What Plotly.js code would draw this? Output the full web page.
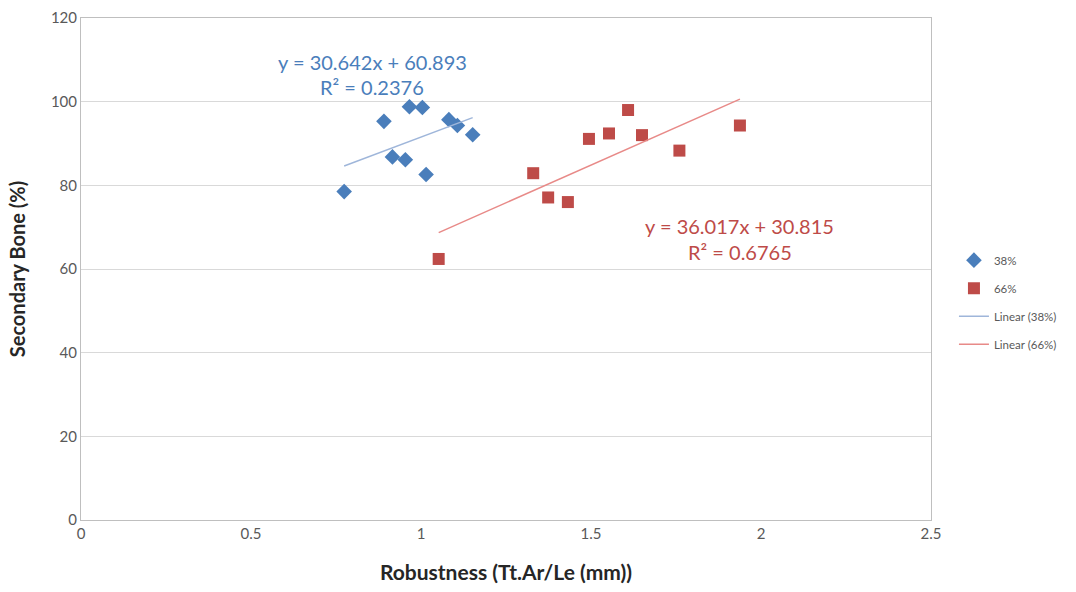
<!DOCTYPE html>
<html>
<head>
<meta charset="utf-8">
<script src="https://cdn.plot.ly/plotly-3.0.1.min.js"></script>
<style>html,body{margin:0;padding:0;background:#fff}#chart{width:1076px;height:592px}</style>
</head>
<body>
<div id="chart"></div>
<script>
// Series 38%
const x38 = [0.774, 0.891, 0.916, 0.954, 0.966, 1.004, 1.015, 1.082, 1.107, 1.152];
const y38 = [78.5, 95.3, 86.8, 86.1, 98.8, 98.6, 82.6, 95.7, 94.3, 92.1];
// Series 66%
const x66 = [1.052, 1.330, 1.374, 1.432, 1.494, 1.553, 1.609, 1.650, 1.760, 1.938];
const y66 = [62.4, 82.9, 77.1, 76.0, 91.1, 92.4, 98.0, 92.0, 88.3, 94.3];
// Trendline equations (as printed on the chart)
const seriesNames = ["38%", "66%"];
const slopes = [30.642, 36.017];
const intercepts = [60.893, 30.815];
const r2 = [0.2376, 0.6765];
const xTicks = [0, 0.5, 1, 1.5, 2, 2.5];
const yTicks = [0, 20, 40, 60, 80, 100, 120];

const FONT = "Lato, Carlito, sans-serif";
const BLUE = "#4a7ebb", RED = "#be4b48";
const BLUE_LINE = "#9fb6da", RED_LINE = "#e88a88";

function trend(xs, i) {
  const lo = Math.min(...xs), hi = Math.max(...xs);
  return {x: [lo, hi], y: [slopes[i] * lo + intercepts[i], slopes[i] * hi + intercepts[i]]};
}
const t38 = trend(x38, 0), t66 = trend(x66, 1);

const traces = [
  {x: x38, y: y38, mode: "markers", type: "scatter", name: seriesNames[0], legendgroup: "a",
   marker: {symbol: "diamond", color: BLUE, size: 12}},
  {x: x66, y: y66, mode: "markers", type: "scatter", name: seriesNames[1], legendgroup: "b",
   marker: {symbol: "square", color: RED, size: 12}},
  {x: t38.x, y: t38.y, mode: "lines", type: "scatter", name: "Linear (" + seriesNames[0] + ")", legendgroup: "c",
   line: {color: BLUE_LINE, width: 1.5}},
  {x: t66.x, y: t66.y, mode: "lines", type: "scatter", name: "Linear (" + seriesNames[1] + ")", legendgroup: "d",
   line: {color: RED_LINE, width: 1.5}}
];

function eq(i) { return "y = " + slopes[i].toFixed(3) + "x + " + intercepts[i].toFixed(3); }
function rr(i) { return "R² = " + r2[i].toFixed(4); }

const layout = {
  width: 1076, height: 592,
  margin: {l: 81, r: 145, t: 18, b: 72},
  paper_bgcolor: "#fff", plot_bgcolor: "#fff",
  font: {family: FONT, color: "#595959", size: 15},
  showlegend: true,
  legend: {x: 1.027, y: 0.434, yanchor: "middle", xanchor: "left",
           font: {size: 11.5, color: "#595959", family: FONT},
           tracegroupgap: 9, bgcolor: "rgba(0,0,0,0)"},
  xaxis: {range: [0, 2.5], tickvals: xTicks, ticktext: xTicks.map(String),
          showgrid: false, zeroline: false, showline: true, linecolor: "#bfbfbf", linewidth: 1, mirror: true,
          ticks: "", tickfont: {size: 15, color: "#595959"},
          title: {text: "<b>Robustness (Tt.Ar/Le (mm))</b>", font: {size: 21, color: "#262626"}, standoff: 24}},
  yaxis: {range: [0, 120], tickvals: yTicks, ticktext: yTicks.map(String),
          showgrid: true, gridcolor: "#d9d9d9", gridwidth: 1, zeroline: false,
          showline: true, linecolor: "#bfbfbf", linewidth: 1, mirror: true,
          ticks: "", ticklen: 0, tickfont: {size: 15, color: "#595959"},
          title: {text: "<b>Secondary Bone (%)</b>", font: {size: 20, color: "#262626"}, standoff: 19}},
  annotations: [
    {x: 0.856, y: 109.5, xref: "x", yref: "y", text: eq(0), showarrow: false, font: {size: 20, color: BLUE}},
    {x: 0.856, y: 103.5, xref: "x", yref: "y", text: rr(0), showarrow: false, font: {size: 20, color: BLUE}},
    {x: 1.938, y: 70.3, xref: "x", yref: "y", text: eq(1), showarrow: false, font: {size: 20, color: RED}},
    {x: 1.938, y: 64.1, xref: "x", yref: "y", text: rr(1), showarrow: false, font: {size: 20, color: RED}}
  ]
};

Plotly.newPlot("chart", traces, layout, {displayModeBar: false, staticPlot: true});
</script>
</body>
</html>
